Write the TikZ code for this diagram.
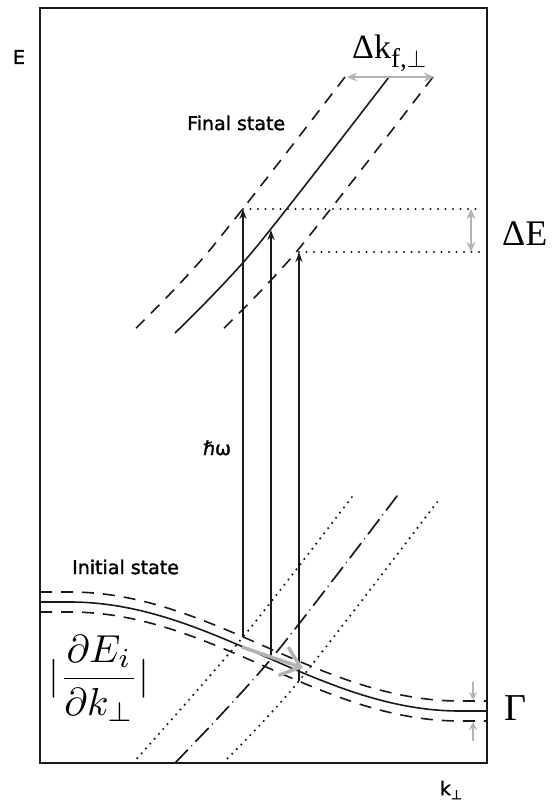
\documentclass[tikz,border=0pt]{standalone}
\usepackage{fontspec}
\setmainfont{Liberation Serif}
\newfontfamily\plotfont[FakeBold=1.6]{DejaVu Sans}
\usepackage{xcolor}
\usepackage{tikz}
\usepackage{amsmath}
\usepackage{amssymb}
\usetikzlibrary{
  arrows.meta,
  positioning,
  calc
}
\definecolor{peInk}{HTML}{1A1A1A}
\definecolor{peMark}{HTML}{B3B3B3}
\tikzset{
  peframe/.style={draw=peInk, line width=2.2pt},
  band/.style={draw=peInk, line width=1.6pt},
  bandedge/.style={band, dash pattern=on 12pt off 9pt},
  kdot/.style={draw=peInk, line width=2.4pt, line cap=round, dash pattern=on 0pt off 6.5pt},
  kdashdot/.style={draw=peInk, line width=1.7pt, line cap=round, dash pattern=on 18pt off 6pt on 0pt off 6pt},
  levdot/.style={draw=peInk, line width=2.4pt, line cap=round, dash pattern=on 0pt off 7.5pt},
  transition/.style={-{Stealth[length=10pt, width=7pt]}, line width=1.6pt, peInk},
  transbold/.style={transition, line width=2.4pt},
  markarrow/.style={{Stealth[length=10pt, width=9pt]}-{Stealth[length=10pt, width=9pt]}, line width=2pt, peMark},
  marktick/.style={-{Stealth[length=8pt, width=8pt]}, line width=1.8pt, peMark},
  gradarrow/.style={-{Straight Barb[length=18pt, width=30pt]}, line width=3.5pt, peMark},
  plotlabel/.style={font=\plotfont\fontsize{19}{19}\selectfont, inner sep=0pt},
  biglabel/.style={font=\fontsize{36}{36}\selectfont, inner sep=0pt}
}

\begin{document}
\begin{tikzpicture}[x=1pt, y=-1pt]
  \useasboundingbox (0,0) rectangle (554,803);
  \draw[peframe] (40,8) rectangle (487,763);

  % final state band
  \foreach \dx/\sty in {-44/bandedge, 0/band, 44/bandedge}{
    \draw[\sty] plot[smooth] coordinates {({389+\dx},77) ({253+\dx},251) ({175+\dx},333)};
  }
  % initial state band
  \foreach \dy/\sty in {-10/bandedge, 0/band, 10/bandedge}{
    \draw[\sty] (40,602+\dy) -- (70,602+\dy)
      .. controls (211.6,602+\dy) and (318.4,711+\dy) .. (460,711+\dy)
      -- (487,711+\dy);
  }
  % initial states shifted by hbar omega
  \draw[kdot] plot[smooth] coordinates {(133,763) (243,637) (352,497)};
  \draw[kdashdot] plot[smooth] coordinates {(175,763) (271,659) (397,496)};
  \draw[kdot] plot[smooth] coordinates {(223,763) (299,681) (441,497)};

  % transitions
  \foreach \i/\xx/\yi/\yf/\sty in {1/243/637/209/transition, 2/271/659/230/transbold, 3/299/681/252/transition}{
    \coordinate (i\i) at (\xx,\yi);
    \coordinate (f\i) at (\xx,\yf);
    \draw[\sty] (i\i) -- (f\i);
  }
  \coordinate (r1) at (483,209);
  \coordinate (r3) at (483,252);
  \draw[levdot] (f1) -- (r1);
  \draw[levdot] (f3) -- (r3);

  % widths
  \coordinate (dkl) at (347,77);
  \coordinate (dkr) at (434,77);
  \draw[markarrow] (dkl) -- (dkr);
  \coordinate (det) at (471,209);
  \coordinate (deb) at (471,252);
  \draw[markarrow] (det) -- (deb);
  \coordinate (gt0) at (473,682);
  \coordinate (gt1) at (473,700);
  \coordinate (gb0) at (473,741);
  \coordinate (gb1) at (473,722);
  \draw[marktick] (gt0) -- (gt1);
  \draw[marktick] (gb0) -- (gb1);
  \coordinate (g0) at (242,647);
  \coordinate (g1) at (303,668);
  \draw[gradarrow] (g0) -- (g1);

  % labels
  \node[plotlabel] (elab) at (19,57) {E};
  \node[plotlabel] (klab) at (451,790) {k\raisebox{-4pt}{\fontsize{13}{13}\selectfont ⊥}};
  \node[plotlabel, anchor=west] (fslab) at (187,123) {Final state};
  \node[plotlabel, anchor=west] (islab) at (72,567) {Initial state};
  \node[plotlabel] (hwlab) at (217,448) {ℏω};
  \node[biglabel, font=\fontsize{34}{34}\selectfont, anchor=base west] (dklab) at (352,58)
    {Δk\raisebox{-9pt}{\fontsize{27}{27}\selectfont f,$\perp$}};
  \node[biglabel, anchor=west] (delab) at (502,234) {ΔE};
  \node[biglabel, font=\fontsize{38}{38}\selectfont, anchor=west] (gamlab) at (504,708) {Γ};
  \node[inner sep=0pt] (gradlab) at (99,678) {\scalebox{3.9}{$|\dfrac{\partial E_i}{\partial k_\perp}|$}};
\end{tikzpicture}
\end{document}
